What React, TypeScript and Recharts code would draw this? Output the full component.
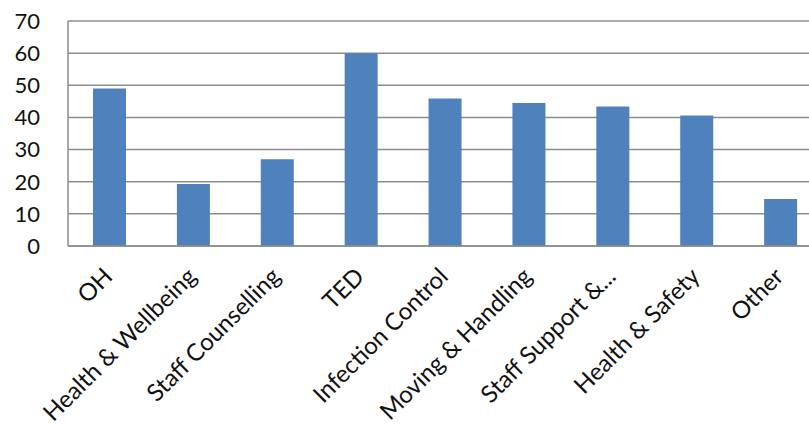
import React from 'react';
import { BarChart, Bar, XAxis, YAxis, CartesianGrid } from 'recharts';

// Training topics and the number of responses for each
const categories = [
  'OH',
  'Health & Wellbeing',
  'Staff Counselling',
  'TED',
  'Infection Control',
  'Moving & Handling',
  'Staff Support &...',
  'Health & Safety',
  'Other',
];
const values = [49, 19.3, 27, 60, 45.9, 44.5, 43.4, 40.6, 14.6];
const yTicks = [0, 10, 20, 30, 40, 50, 60, 70];

const data = categories.map((name, i) => ({ name, value: values[i] }));

const FONT = 'Lato, "Open Sans", sans-serif';
const AXIS_GREY = '#8c8c8c';
const BAR_BLUE = '#4f81bd';

function CategoryTick(props: any) {
  const { x, y, payload } = props;
  const tx = x + 4;
  const ty = y + 32;
  return (
    <text
      x={tx}
      y={ty}
      transform={`rotate(-45, ${tx}, ${ty})`}
      textAnchor="end"
      fontSize={24}
      fontFamily={FONT}
      fill="#111"
    >
      {payload.value}
    </text>
  );
}

export default function App() {
  return (
    <div
      style={{
        position: 'absolute',
        left: 0,
        top: 0,
        width: 809,
        height: 428,
        overflow: 'hidden',
        background: '#fff',
      }}
    >
      <BarChart
        width={830}
        height={428}
        data={data}
        margin={{ top: 21, right: 7, left: 0, bottom: 0 }}
      >
        <CartesianGrid vertical={false} stroke={AXIS_GREY} strokeWidth={1.5} />
        <YAxis
          width={68}
          domain={[0, 70]}
          ticks={yTicks}
          interval={0}
          tickLine={false}
          tickSize={0}
          tickMargin={28}
          axisLine={{ stroke: AXIS_GREY, strokeWidth: 1.5 }}
          tick={{ fill: '#111', fontSize: 22, fontFamily: FONT }}
        />
        <XAxis
          dataKey="name"
          height={182}
          interval={0}
          tickLine={false}
          tickSize={0}
          tickMargin={0}
          axisLine={{ stroke: AXIS_GREY, strokeWidth: 1.5 }}
          tick={<CategoryTick />}
        />
        <Bar dataKey="value" fill={BAR_BLUE} barSize={33} isAnimationActive={false} />
      </BarChart>
    </div>
  );
}
